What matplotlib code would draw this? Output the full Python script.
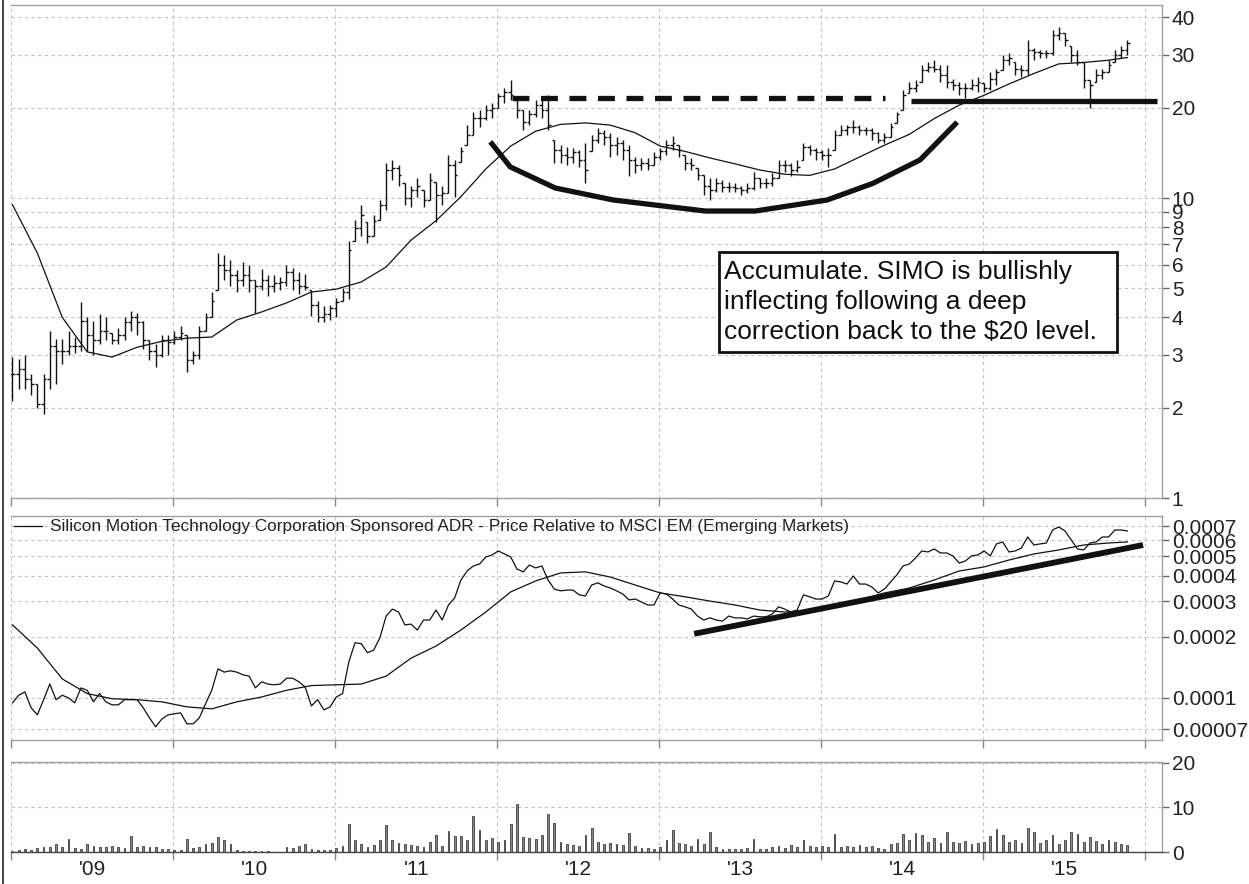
import numpy as np
import matplotlib
matplotlib.use("Agg")
import matplotlib.pyplot as plt
from matplotlib.collections import LineCollection
from matplotlib.patches import Rectangle
from matplotlib.lines import Line2D
from matplotlib.ticker import NullLocator

plt.rcParams['font.family'] = ['Liberation Sans', 'DejaVu Sans']

# ---------------- data (bi-weekly bars, decimal-year axis) ----------------
start_year = 2008.506
bar_step = 2 / 52.0

high = [2.95, 2.9, 3.0, 2.6, 2.4, 2.6, 3.6, 3.4, 3.4, 3.6,
        3.45, 4.5, 4.0, 3.9, 4.1, 4.0, 3.55, 3.7, 4.0, 4.2,
        4.15, 3.9, 3.35, 3.25, 3.5, 3.5, 3.6, 3.75, 3.5, 3.1,
        3.75, 4.15, 4.85, 6.55, 6.45, 6.2, 5.75, 6.1, 6.0, 5.33,
        5.8, 5.55, 5.55, 5.45, 6.0, 5.85, 5.65, 5.6, 4.95, 4.55,
        4.35, 4.4, 4.65, 5.0, 7.2, 8.45, 9.5, 8.35, 8.8, 9.85,
        13.1, 13.4, 12.9, 11.2, 11.0, 11.7, 10.6, 12.1, 11.3, 11.0,
        13.9, 13.4, 14.8, 17.5, 19.4, 19.7, 20.4, 20.7, 22.4, 23.3,
        24.7, 21.2, 19.7, 19.7, 21.2, 21.5, 22.0, 15.6, 15.0, 14.8,
        14.7, 14.5, 15.3, 16.2, 17.1, 16.9, 16.5, 16.0, 15.6, 15.0,
        13.7, 13.6, 13.6, 14.2, 14.7, 15.6, 16.1, 15.0, 13.9, 13.6,
        12.6, 11.9, 11.7, 11.7, 11.5, 11.3, 11.2, 11.0, 11.2, 12.2,
        11.7, 11.7, 12.1, 13.4, 13.4, 13.1, 13.4, 15.3, 15.0, 14.7,
        14.5, 14.7, 16.9, 17.5, 17.5, 18.2, 17.5, 17.2, 17.1, 16.6,
        16.5, 17.8, 19.4, 22.9, 24.4, 24.7, 27.7, 28.3, 28.8, 27.7,
        27.7, 25.0, 24.4, 24.2, 25.0, 25.3, 24.2, 26.4, 27.0, 30.0,
        30.4, 28.3, 27.7, 33.6, 31.6, 31.1, 31.1, 36.3, 37.1, 35.5,
        32.2, 31.1, 28.3, 24.7, 27.0, 27.0, 28.8, 31.1, 32.2, 33.6]

low = [2.1, 2.3, 2.3, 2.2, 2.0, 1.9, 2.3, 2.4, 2.8, 3.0,
       3.05, 3.1, 3.1, 3.0, 3.25, 3.35, 3.25, 3.25, 3.35, 3.6,
       3.5, 3.15, 2.88, 2.73, 2.95, 3.0, 3.25, 3.35, 2.63, 2.8,
       2.9, 3.6, 4.0, 4.95, 5.33, 5.1, 4.85, 5.1, 4.85, 4.15,
       4.95, 4.7, 4.85, 4.95, 5.1, 4.95, 4.8, 4.95, 4.05, 3.85,
       3.85, 3.92, 4.0, 4.55, 4.6, 7.2, 7.5, 7.1, 7.5, 8.45,
       9.1, 11.5, 11.0, 9.5, 9.35, 10.1, 9.35, 9.85, 8.3, 9.5,
       10.4, 10.1, 13.2, 15.0, 16.2, 17.2, 18.2, 18.5, 20.0, 20.7,
       21.2, 18.5, 16.9, 17.5, 18.6, 18.5, 16.9, 13.1, 13.1, 12.9,
       13.1, 12.7, 11.2, 14.3, 15.3, 15.0, 13.7, 13.9, 13.4, 11.8,
       12.1, 12.4, 12.4, 12.9, 13.4, 13.9, 14.5, 13.7, 12.4, 12.4,
       11.5, 10.2, 9.85, 10.5, 10.5, 10.5, 10.5, 10.2, 10.4, 10.6,
       10.8, 10.8, 11.0, 11.7, 12.2, 11.8, 12.2, 13.4, 13.9, 13.4,
       13.4, 12.7, 14.5, 16.2, 16.2, 16.5, 16.2, 16.2, 15.6, 15.3,
       15.3, 16.0, 17.8, 19.7, 22.4, 22.6, 24.4, 26.4, 26.4, 24.4,
       23.3, 22.9, 22.0, 21.5, 22.9, 22.6, 22.6, 22.9, 23.8, 26.7,
       27.7, 25.8, 25.3, 25.8, 28.8, 29.2, 29.2, 30.0, 33.6, 32.2,
       28.3, 27.7, 23.3, 20.0, 24.4, 25.0, 26.4, 28.3, 29.4, 30.0]

close = [2.6, 2.7, 2.5, 2.4, 2.05, 2.5, 3.2, 3.1, 3.1, 3.2,
         3.2, 3.9, 3.5, 3.35, 3.6, 3.6, 3.35, 3.5, 3.85, 4.0,
         3.85, 3.35, 3.1, 3.0, 3.35, 3.3, 3.45, 3.55, 2.88, 3.0,
         3.6, 4.0, 4.55, 6.0, 5.75, 5.55, 5.33, 5.55, 5.33, 5.1,
         5.33, 5.1, 5.2, 5.25, 5.65, 5.33, 5.1, 5.05, 4.4, 4.0,
         4.1, 4.3, 4.5, 4.85, 6.7, 7.95, 8.8, 7.5, 8.4, 9.5,
         12.4, 12.6, 11.9, 10.0, 10.6, 11.0, 9.85, 11.5, 10.2, 10.4,
         12.9, 11.9, 14.3, 16.2, 18.5, 18.5, 19.7, 20.0, 21.8, 22.6,
         22.0, 19.7, 17.9, 19.0, 20.4, 19.7, 17.5, 14.5, 13.9, 13.7,
         14.2, 13.4, 12.4, 15.6, 16.5, 16.0, 15.0, 15.3, 14.5, 13.4,
         12.9, 13.1, 12.9, 13.7, 14.3, 15.0, 15.3, 14.5, 13.1, 12.9,
         11.9, 11.0, 10.6, 11.2, 10.9, 10.9, 10.8, 10.6, 10.8, 11.7,
         11.2, 11.2, 11.7, 12.9, 12.9, 12.4, 12.7, 14.8, 14.5, 14.2,
         13.9, 13.9, 16.2, 16.9, 17.2, 17.2, 16.9, 16.9, 16.5, 15.6,
         16.0, 17.2, 19.0, 22.0, 23.3, 23.8, 26.7, 27.3, 27.0, 25.8,
         24.4, 23.8, 23.3, 23.3, 23.8, 24.4, 23.3, 25.0, 26.4, 28.8,
         29.2, 27.0, 26.7, 31.1, 30.6, 30.4, 30.4, 34.9, 35.5, 33.6,
         30.0, 28.3, 24.7, 23.8, 25.8, 26.4, 27.7, 30.0, 31.1, 32.9]

# moving averages sampled every 4th bar (plus the last bar)
price_ma = [9.5, 6.55, 4.0, 3.07, 2.95, 3.18, 3.33, 3.41, 3.44, 3.92,
            4.17, 4.47, 4.86, 4.97, 5.25, 5.89, 7.24, 8.4, 10.1, 12.5,
            14.9, 16.7, 17.6, 17.8, 17.5, 16.5, 14.9, 14.3, 13.6, 13.0,
            12.4, 12.0, 11.9, 12.5, 13.7, 15.0, 16.3, 18.4, 20.4, 22.0,
            24.0, 26.0, 28.0, 28.3, 28.8, 29.4]

# price relative to MSCI EM, in units of 1e-4
rel_e4 = [0.945, 1.03, 1.07, 0.893, 0.825, 0.98, 1.17, 0.98, 1.03, 1.00,
          0.945, 1.12, 1.09, 0.956, 1.05, 0.956, 0.924, 0.924, 0.98, 0.98,
          0.98, 0.893, 0.797, 0.72, 0.788, 0.825, 0.834, 0.844, 0.745, 0.745,
          0.797, 0.934, 1.09, 1.39, 1.34, 1.36, 1.34, 1.30, 1.28, 1.12,
          1.20, 1.17, 1.16, 1.17, 1.25, 1.25, 1.20, 1.13, 0.913, 0.98,
          0.873, 0.903, 1.01, 1.05, 1.50, 1.87, 1.85, 1.67, 1.72, 1.98,
          2.53, 2.74, 2.65, 2.29, 2.31, 2.16, 2.42, 2.42, 2.71, 2.42,
          2.87, 3.11, 3.81, 4.22, 4.47, 4.57, 4.95, 5.06, 5.30, 5.12,
          4.95, 4.32, 4.18, 4.52, 4.37, 4.47, 3.81, 3.44, 3.37, 3.40,
          3.40, 3.22, 3.18, 3.60, 3.69, 3.56, 3.48, 3.37, 3.25, 3.04,
          3.07, 2.97, 2.87, 2.87, 3.29, 3.25, 3.07, 2.87, 2.81, 2.74,
          2.53, 2.42, 2.48, 2.42, 2.39, 2.53, 2.48, 2.48, 2.45, 2.53,
          2.51, 2.51, 2.59, 2.81, 2.74, 2.65, 2.71, 3.22, 3.15, 3.07,
          3.07, 3.18, 3.77, 3.73, 3.64, 3.99, 3.64, 3.64, 3.52, 3.29,
          3.44, 3.73, 4.04, 4.47, 4.57, 4.89, 5.30, 5.24, 5.42, 5.18,
          5.18, 5.01, 4.62, 4.73, 5.01, 5.06, 5.30, 5.01, 5.74, 5.87,
          5.24, 5.30, 5.48, 6.21, 5.67, 5.74, 5.80, 6.72, 6.96, 6.65,
          6.00, 5.42, 5.36, 5.80, 5.87, 6.21, 6.21, 6.72, 6.72, 6.65]

rel_ma_e4 = [2.29, 1.76, 1.24, 1.05, 0.99, 0.98, 0.956, 0.903, 0.883, 0.956,
             1.01, 1.09, 1.15, 1.16, 1.17, 1.28, 1.57, 1.80, 2.16, 2.65,
             3.33, 3.77, 4.13, 4.18, 3.94, 3.60, 3.29, 3.15, 3.00, 2.87,
             2.71, 2.65, 2.71, 2.87, 3.04, 3.29, 3.48, 3.81, 4.22, 4.42,
             4.78, 5.12, 5.36, 5.67, 5.80, 5.87]

volume = [0.3, 0.5, 0.7, 0.5, 0.9, 1.1, 1.1, 1.8, 1.1, 2.9,
          0.9, 0.7, 1.8, 1.3, 1.1, 1.1, 1.3, 1.1, 0.9, 3.6,
          1.1, 1.3, 1.1, 1.1, 0.7, 0.7, 0.5, 0.5, 2.9, 0.9,
          1.1, 1.8, 2.0, 3.4, 2.7, 1.8, 0.5, 0.2, 0.2, 0.2,
          0.2, 0.2, 0.1, 0.1, 1.1, 0.9, 1.3, 1.8, 0.7, 0.5,
          0.5, 0.5, 0.9, 1.3, 6.3, 2.7, 1.8, 1.1, 1.6, 2.7,
          6.1, 2.7, 2.0, 1.8, 1.6, 1.3, 1.1, 2.2, 3.8, 1.3,
          4.7, 3.6, 3.6, 2.7, 8.1, 4.9, 2.7, 3.1, 2.2, 2.7,
          6.3, 10.8, 3.4, 3.1, 2.9, 3.8, 8.5, 6.5, 2.2, 1.8,
          1.6, 1.3, 3.8, 5.4, 2.2, 1.8, 2.0, 1.8, 1.6, 4.3,
          1.3, 0.9, 0.9, 0.7, 1.1, 2.7, 4.9, 2.0, 1.8, 1.3,
          2.9, 1.8, 4.5, 1.1, 0.7, 0.7, 0.7, 0.7, 0.9, 2.9,
          0.7, 0.7, 1.1, 1.3, 0.9, 1.6, 1.1, 2.7, 1.3, 1.1,
          1.3, 1.1, 4.0, 1.1, 1.3, 1.1, 1.6, 1.1, 1.3, 0.9,
          0.7, 1.8, 2.0, 4.0, 2.7, 4.3, 3.8, 2.2, 3.1, 2.0,
          4.5, 2.2, 2.0, 2.5, 1.8, 2.0, 2.2, 3.6, 5.2, 3.8,
          2.2, 2.7, 2.0, 5.4, 4.5, 2.0, 2.7, 3.8, 1.8, 2.7,
          4.5, 4.0, 2.2, 3.4, 2.5, 1.8, 2.7, 2.2, 1.8, 1.6]

# annotation lines drawn by the analyst
cup_dates = [2011.457, 2011.580, 2011.858, 2012.216, 2012.784, 2013.093,
             2013.537, 2013.821, 2014.111, 2014.340]
cup_values = [15.4, 12.7, 10.8, 9.85, 9.05, 9.05, 9.85, 11.2, 13.4, 17.9]
resistance_dates = [2011.593, 2013.895]
resistance_value = 21.5
support_dates = [2014.056, 2015.574]
support_value = 21.0
rel_trend_dates = [2012.716, 2015.488]
rel_trend_values_e4 = [2.07, 5.67]

price_ticks = [1, 2, 3, 4, 5, 6, 7, 8, 9, 10, 20, 30, 40]
rel_ticks = [0.00007, 0.0001, 0.0002, 0.0003, 0.0004, 0.0005, 0.0006, 0.0007]
rel_tick_labels = ['0.00007', '0.0001', '0.0002', '0.0003', '0.0004',
                   '0.0005', '0.0006', '0.0007']
vol_ticks = [0, 10, 20]
year_labels = ["'09", "'10", "'11", "'12", "'13", "'14", "'15"]
note = ("Accumulate. SIMO is bullishly\n"
        "inflecting following a deep\n"
        "correction back to the $20 level.")
legend_label = ("Silicon Motion Technology Corporation Sponsored ADR - "
                "Price Relative to MSCI EM (Emerging Markets)")

# ---------------- derived arrays ----------------
high = np.array(high); low = np.array(low); close = np.array(close)
n = len(close)
t = start_year + bar_step * np.arange(n)
ma_idx = np.r_[np.arange(0, n, 4), n - 1]
t_ma = t[ma_idx]
rel = np.array(rel_e4) * 1e-4
rel_ma = np.array(rel_ma_e4) * 1e-4
opens = np.clip(np.r_[close[0], close[:-1]], low, high)

# ---------------- figure ----------------
W, H = 1249, 884
fig = plt.figure(figsize=(W / 100, H / 100), dpi=100)


def rect(l, top, r, b):
    return [l / W, 1 - b / H, (r - l) / W, (b - top) / H]


ax1 = fig.add_axes(rect(11, 5, 1162, 498))
ax2 = fig.add_axes(rect(11, 516, 1162, 740))
ax3 = fig.add_axes(rect(11, 762, 1162, 852))

XMIN, XMAX = 2008.497, 2015.605
grid_x = np.arange(2008.5, 2015.6, 1.0)
TXT = '#222222'
GRID = '#c2c2c2'
LABEL_SIZE = 15


def style(ax):
    ax.set_xlim(XMIN, XMAX)
    for s in ['left', 'top', 'right', 'bottom']:
        ax.spines[s].set_color('#a0a0a0')
        ax.spines[s].set_linewidth(1.0)
    ax.spines['left'].set_visible(False)
    ax.yaxis.tick_right()
    ax.yaxis.set_minor_locator(NullLocator())
    ax.tick_params(axis='y', which='major', direction='out', length=5,
                   width=1, color='#666666', labelsize=LABEL_SIZE,
                   labelcolor=TXT, pad=2)
    ax.set_xticks(grid_x)
    ax.tick_params(axis='x', which='major', direction='out', length=6,
                   width=1, color='#888888', labelbottom=False)
    ax.grid(True, which='major', color=GRID, linestyle=(0, (3, 3)),
            linewidth=0.8)
    ax.set_axisbelow(True)


# ---- price panel ----
style(ax1)
ax1.set_yscale('log')
ax1.set_ylim(1.0, 44.0)
ax1.set_yticks(price_ticks, [str(v) for v in price_ticks])
ax1.yaxis.set_minor_locator(NullLocator())

tick_w = 0.42 * bar_step
segs = []
for ti, o, h, l, c in zip(t, opens, high, low, close):
    segs.append([(ti, l), (ti, h)])
    segs.append([(ti - tick_w, o), (ti, o)])
    segs.append([(ti, c), (ti + tick_w, c)])
ax1.add_collection(LineCollection(segs, colors='#111111', linewidths=1.0))
ax1.plot(t_ma, price_ma, color='#111111', lw=0.9)

ax1.plot(cup_dates, cup_values, color='#111111', lw=3.8,
         solid_joinstyle='miter', solid_capstyle='butt')
ax1.plot(resistance_dates, [resistance_value] * 2, color='#111111', lw=3.8,
         linestyle=(0, (3.2, 2.2)), dash_capstyle='butt')
ax1.plot(support_dates, [support_value] * 2, color='#111111', lw=3.8,
         solid_capstyle='butt')

ax1.add_patch(Rectangle((0.6151, 0.2961), 0.9609 - 0.6151, 0.499 - 0.2961,
                        transform=ax1.transAxes, fill=True, facecolor='white',
                        edgecolor='#111111', lw=2.0, zorder=5))
ax1.text(0.6195, 0.3976, note, transform=ax1.transAxes, ha='left',
         va='center', fontsize=19, color='#111111', linespacing=1.32,
         zorder=6)

# ---- relative panel ----
style(ax2)
ax2.set_yscale('log')
ax2.set_ylim(6.2e-5, 7.88e-4)
ax2.set_yticks(rel_ticks, rel_tick_labels)
ax2.yaxis.set_minor_locator(NullLocator())
ax2.plot(t, rel, color='#111111', lw=0.9)
ax2.plot(t_ma, rel_ma, color='#111111', lw=0.9)
ax2.plot(rel_trend_dates, np.array(rel_trend_values_e4) * 1e-4,
         color='#111111', lw=4.2, solid_capstyle='butt')
ax2.add_line(Line2D([0.0026, 0.027], [0.955, 0.955], transform=ax2.transAxes,
                    color='#111111', lw=0.9))
ax2.text(0.0339, 0.955, legend_label, transform=ax2.transAxes, ha='left',
         va='center', fontsize=12.4, color=TXT)

# ---- volume panel ----
style(ax3)
ax3.set_ylim(0, 20.2)
ax3.set_yticks(vol_ticks, [str(v) for v in vol_ticks])
ax3.bar(t, volume, width=0.011, color='#8a8a8a', edgecolor='#222222',
        linewidth=0.5)
ax3.spines['bottom'].set_color('#444444')
ax3.set_xticks([2009 + i for i in range(len(year_labels))], year_labels,
               minor=True)
ax3.tick_params(axis='x', which='minor', length=0, labelsize=LABEL_SIZE,
                labelcolor=TXT, pad=6, labelbottom=True)

# left frame line of the whole chart
fig.add_artist(Line2D([3.5 / W, 3.5 / W], [0, 1], transform=fig.transFigure,
                      color='#444444', lw=1.4))

fig.savefig('out.png', dpi=100)
